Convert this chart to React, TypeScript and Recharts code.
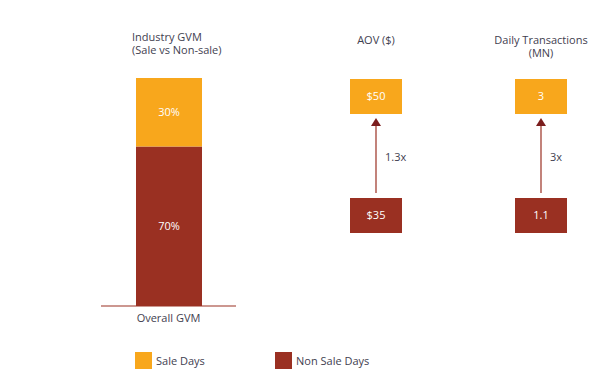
import { BarChart, Bar, XAxis, YAxis, LabelList, Legend, ScatterChart, Scatter } from 'recharts';

const SALE = '#F8A71C';
const NON_SALE = '#9A3022';
const ARROW = '#7B1D1D';
const TEXT = '#3f4150';
const FONT = "'Open Sans', sans-serif";

// data
const segments = ['Sale Days', 'Non Sale Days'];
const gvmCategory = 'Overall GVM';
const gvmShare = [30, 70]; // sale, non-sale (%)
const aovValues = [50, 35];
const txnValues = [3, 1.1];
const uplift = ['1.3x', '3x'];

const gvmData = [{ name: gvmCategory, sale: gvmShare[0], nonSale: gvmShare[1] }];

const makeBoxData = (metric: string, values: number[], fmt: (v: number) => string) =>
  segments.map((segment, i) => ({ metric, segment, value: values[i], label: fmt(values[i]) }));

const aovData = makeBoxData('AOV ($)', aovValues, (v) => `$${v}`);
const txnData = makeBoxData('Daily Transactions (MN)', txnValues, (v) => `${v}`);

const BOX_W = 52;
const BOX_H = 35;
const STEP = 119; // distance between the two box centres (plot height of the small charts)

function BoxShape(props: any) {
  const { cx, cy, payload, ratio } = props;
  const isSale = payload.segment === segments[0];
  const tail = cy - BOX_H / 2 - 5;
  const tip = cy - STEP + BOX_H / 2 + 4;
  return (
    <g>
      <rect x={cx - BOX_W / 2} y={cy - BOX_H / 2} width={BOX_W} height={BOX_H} fill={isSale ? SALE : NON_SALE} />
      <text x={cx} y={cy} dy="0.35em" textAnchor="middle" fill="#fff" fontSize={11} fontFamily={FONT}>
        {payload.label}
      </text>
      {!isSale && (
        <g>
          <line x1={cx} y1={tail} x2={cx} y2={tip + 6} stroke={NON_SALE} strokeWidth={1.2} />
          <polygon points={`${cx},${tip} ${cx - 5},${tip + 8} ${cx + 5},${tip + 8}`} fill={ARROW} />
          <text x={cx + 9} y={(tail + tip) / 2 + 2} dy="0.35em" fill={TEXT} fontSize={11} fontFamily={FONT}>
            {ratio}
          </text>
        </g>
      )}
    </g>
  );
}

function LegendContent({ payload }: any) {
  const items = [...(payload || [])].reverse();
  return (
    <div style={{ display: 'flex', fontFamily: FONT, fontSize: 11, color: TEXT }}>
      {items.map((it: any) => (
        <div key={it.value} style={{ display: 'flex', alignItems: 'center', width: 140 }}>
          <span style={{ width: 17, height: 17, background: it.color, marginRight: 4, display: 'inline-block' }} />
          <span>{it.value}</span>
        </div>
      ))}
    </div>
  );
}

function BoxChart({ data, ratio, left }: { data: any[]; ratio: string; left: number }) {
  return (
    <div style={{ position: 'absolute', left, top: 0 }}>
      <ScatterChart width={110} height={260} margin={{ top: 96.5, bottom: 44.5, left: 0, right: 0 }}>
        <XAxis dataKey="metric" type="category" allowDuplicatedCategory={false} hide />
        <YAxis dataKey="segment" type="category" scale="point" allowDuplicatedCategory={false} reversed hide />
        <Scatter data={data} isAnimationActive={false} shape={(p: any) => <BoxShape {...p} ratio={ratio} />} />
      </ScatterChart>
    </div>
  );
}

const titleStyle: React.CSSProperties = {
  position: 'absolute',
  fontFamily: FONT,
  fontSize: 11,
  lineHeight: '13px',
  color: TEXT,
  whiteSpace: 'nowrap',
};

export default function App() {
  return (
    <div style={{ position: 'absolute', left: 0, top: 0, width: 592, height: 389, background: '#fff' }}>
      <BarChart
        width={592}
        height={389}
        data={gvmData}
        margin={{ top: 78, left: 101, right: 356, bottom: 53 }}
      >
        <XAxis
          dataKey="name"
          axisLine={{ stroke: NON_SALE, strokeWidth: 1.2 }}
          tickLine={false}
          tick={{ fontSize: 11, fill: TEXT, fontFamily: FONT }}
        />
        <YAxis domain={[0, 100]} hide />
        <Bar dataKey="nonSale" name="Non Sale Days" stackId="gvm" fill={NON_SALE} barSize={66} isAnimationActive={false}>
          <LabelList dataKey="nonSale" position="center" formatter={(v: any) => `${v}%`} fill="#fff" fontSize={11} fontFamily={FONT} />
        </Bar>
        <Bar dataKey="sale" name="Sale Days" stackId="gvm" fill={SALE} barSize={66} isAnimationActive={false}>
          <LabelList dataKey="sale" position="center" formatter={(v: any) => `${v}%`} fill="#fff" fontSize={11} fontFamily={FONT} />
        </Bar>
        <Legend
          layout="horizontal"
          verticalAlign="middle"
          align="center"
          content={<LegendContent />}
          wrapperStyle={{ left: 135, top: 352, width: 320 }}
        />
      </BarChart>

      <BoxChart data={aovData} ratio={uplift[0]} left={321} />
      <BoxChart data={txnData} ratio={uplift[1]} left={486} />

      <div style={{ ...titleStyle, left: 132, top: 30 }}>
        Industry GVM
        <br />
        (Sale vs Non-sale)
      </div>
      <div style={{ ...titleStyle, left: 376, top: 33, transform: 'translateX(-50%)', textAlign: 'center' }}>AOV ($)</div>
      <div style={{ ...titleStyle, left: 541, top: 33, transform: 'translateX(-50%)', textAlign: 'center' }}>
        Daily Transactions
        <br />
        (MN)
      </div>
    </div>
  );
}
